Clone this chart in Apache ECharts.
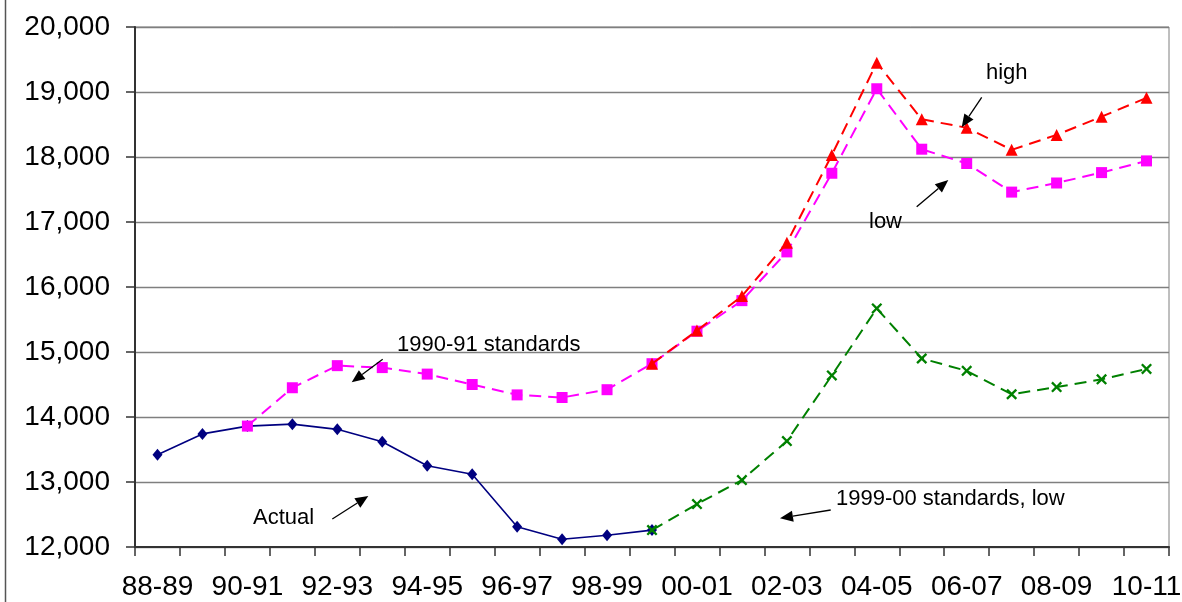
<!DOCTYPE html>
<html>
<head>
<meta charset="utf-8">
<script src="https://cdn.jsdelivr.net/npm/echarts@6/dist/echarts.min.js"></script>
<style>
  html, body { margin: 0; padding: 0; background: #fff; }
  #chart { width: 1182px; height: 602px; }
</style>
</head>
<body>
<div id="chart"></div>
<script>
// School years on the horizontal axis
const years = ['88-89', '89-90', '90-91', '91-92', '92-93', '93-94', '94-95', '95-96',
  '96-97', '97-98', '98-99', '99-00', '00-01', '01-02', '02-03', '03-04', '04-05',
  '05-06', '06-07', '07-08', '08-09', '09-10', '10-11'];

// Recorded values up to 99-00
const actual = [13420, 13740, 13860, 13890, 13810, 13620, 13250, 13120, 12310, 12120,
  12180, 12260, null, null, null, null, null, null, null, null, null, null, null];

// Projection on 1990-91 standards, low estimate
const std1990Low = [null, null, 13860, 14450, 14790, 14760, 14660, 14500, 14340, 14300,
  14420, 14820, 15320, 15790, 16540, 17750, 19050, 18120, 17900, 17460, 17600, 17760, 17940];

// Projection on 1990-91 standards, high estimate
const std1990High = [null, null, null, null, null, null, null, null, null, null,
  null, 14820, 15330, 15860, 16680, 18030, 19450, 18580, 18450, 18110, 18340, 18620, 18910];

// Projection on 1999-00 standards, low estimate
const std1999Low = [null, null, null, null, null, null, null, null, null, null,
  null, 12260, 12660, 13030, 13630, 14640, 15670, 14900, 14710, 14350, 14460, 14580, 14740];

// Value axis range
const yMin = 12000;
const yMax = 20000;
const yStep = 1000;

// Callout texts with their arrows (pixel positions on the canvas)
const notes = [
  { text: 'high', x: 986, y: 73, from: [981.7, 97.3], to: [961.7, 127.3] },
  { text: 'low', x: 869, y: 222, from: [916.7, 206.7], to: [948.3, 180] },
  { text: '1990-91 standards', x: 397, y: 345, from: [382.7, 359.3], to: [351.7, 382.3] },
  { text: 'Actual', x: 253, y: 518, from: [332.3, 519], to: [368.3, 496] },
  { text: '1999-00 standards, low', x: 836, y: 499, from: [830.7, 510], to: [780, 518.3] }
];

const FONT = '"Liberation Sans", Arial, sans-serif';

function arrowGraphics(n) {
  const [x1, y1] = n.from;
  const [x2, y2] = n.to;
  const dx = x2 - x1, dy = y2 - y1;
  const len = Math.sqrt(dx * dx + dy * dy);
  const ux = dx / len, uy = dy / len;
  const headLen = 13, headHalf = 5.5;
  const bx = x2 - ux * headLen, by = y2 - uy * headLen;
  const px = -uy, py = ux;
  return [
    {
      type: 'line',
      shape: { x1: x1, y1: y1, x2: bx, y2: by },
      style: { stroke: '#000', lineWidth: 1.3 },
      z: 100
    },
    {
      type: 'polygon',
      shape: { points: [[x2, y2], [bx + px * headHalf, by + py * headHalf], [bx - px * headHalf, by - py * headHalf]] },
      style: { fill: '#000' },
      z: 100
    }
  ];
}

const graphics = [
  // outer frame edge on the left
  { type: 'line', shape: { x1: 5.5, y1: 0, x2: 5.5, y2: 602 }, style: { stroke: '#555', lineWidth: 1.5 }, z: 100 }
];
notes.forEach(n => {
  graphics.push({
    type: 'text',
    x: n.x,
    y: n.y,
    style: { text: n.text, font: '22px ' + FONT, fill: '#000', textVerticalAlign: 'middle', verticalAlign: 'middle' },
    z: 100
  });
  arrowGraphics(n).forEach(g => graphics.push(g));
});

// Filled "x" marker
const crossPath = 'path://M0,1.5 L1.5,0 L5,3.5 L8.5,0 L10,1.5 L6.5,5 L10,8.5 L8.5,10 L5,6.5 L1.5,10 L0,8.5 L3.5,5 Z';

const chart = echarts.init(document.getElementById('chart'), null, { renderer: 'canvas' });
chart.setOption({
  backgroundColor: '#fff',
  animation: false,
  grid: {
    left: 135, right: 13, top: 27, bottom: 55,
    show: true, borderColor: '#7f7f7f', borderWidth: 1,
    containLabel: false,
    outerBoundsMode: 'none'
  },
  xAxis: {
    type: 'category',
    data: years,
    boundaryGap: true,
    axisLine: { lineStyle: { color: '#333', width: 2 } },
    axisTick: { show: true, interval: 0, length: 9, inside: false, lineStyle: { color: '#333', width: 1.5 } },
    axisLabel: { interval: 1, margin: 26, fontSize: 28, fontFamily: FONT, color: '#000' },
    splitLine: { show: false }
  },
  yAxis: {
    type: 'value',
    min: yMin, max: yMax, interval: yStep,
    axisLine: { show: true, lineStyle: { color: '#333', width: 2 } },
    axisTick: { show: true, length: 9, inside: false, lineStyle: { color: '#333', width: 1.5 } },
    axisLabel: {
      margin: 25, fontSize: 28, fontFamily: FONT, color: '#000',
      formatter: v => v.toLocaleString('en-US')
    },
    splitLine: { show: true, lineStyle: { color: '#7f7f7f', width: 1.3 } }
  },
  series: [
    {
      name: 'Actual', type: 'line', data: actual,
      symbol: 'diamond', symbolSize: [10, 12],
      itemStyle: { color: '#000080' },
      lineStyle: { color: '#000080', width: 1.6 },
      z: 2
    },
    {
      name: '1990-91 standards, low', type: 'line', data: std1990Low,
      symbol: 'rect', symbolSize: 11,
      itemStyle: { color: '#ff00ff' },
      lineStyle: { color: '#ff00ff', width: 2, type: [12, 7] },
      z: 3
    },
    {
      name: '1990-91 standards, high', type: 'line', data: std1990High,
      symbol: 'triangle', symbolSize: 12,
      itemStyle: { color: '#ff0000' },
      lineStyle: { color: '#ff0000', width: 2, type: [12, 7] },
      z: 4
    },
    {
      name: '1999-00 standards, low', type: 'line', data: std1999Low,
      symbol: crossPath, symbolSize: 11,
      itemStyle: { color: '#008000' },
      lineStyle: { color: '#008000', width: 2, type: [12, 7] },
      z: 5
    }
  ],
  graphic: graphics
});
</script>
</body>
</html>
